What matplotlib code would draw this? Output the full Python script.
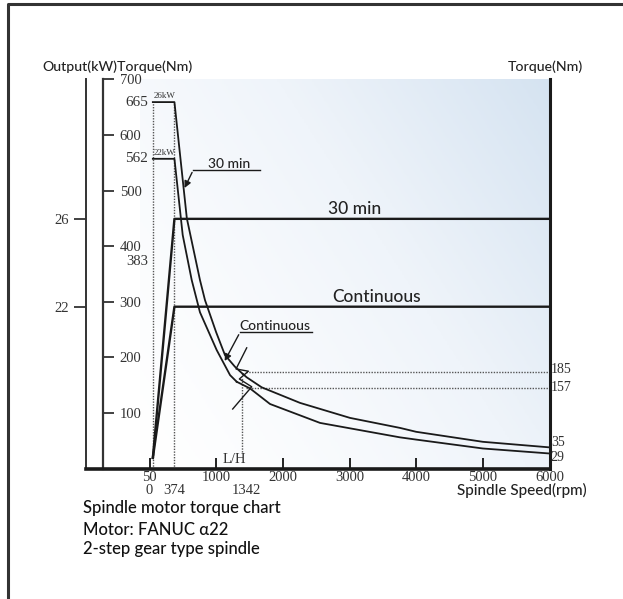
import numpy as np
import matplotlib
matplotlib.use('Agg')
import matplotlib.pyplot as plt
from matplotlib.lines import Line2D
from matplotlib.colors import LinearSegmentedColormap

# ---------------- data ----------------
speed_ticks = [0, 1000, 2000, 3000, 4000, 5000, 6000]
speed_tick_labels = ['50', '1000', '2000', '3000', '4000', '5000', '6000']
torque_ticks = [100, 200, 300, 400, 500, 600, 700]
output_tick_pos = [449, 291]          # output ticks, placed on the torque scale
output_tick_labels = ['26', '22']

# low gear (rpm, Nm)
s30_low_rpm = [50, 374, 560, 757, 832, 1000, 1132, 1282, 1400]
s30_low_tq = [659, 659, 450, 339, 303, 245, 204, 183, 170]
cont_low_rpm = [50, 374, 498, 633, 757, 1008, 1208, 1308]
cont_low_tq = [557, 557, 420, 339, 281, 213, 168, 156]
# high gear (rpm, Nm)
s30_high_rpm = [1400, 1458, 1683, 2258, 3008, 3758, 4000, 5000, 6000]
s30_high_tq = [170, 164, 146, 118, 91, 73, 66, 48, 38]
cont_high_rpm = [1308, 1508, 1808, 2558, 3758, 4000, 5000, 6000]
cont_high_tq = [156, 144, 116, 82, 56, 52, 36, 27]
# output power lines (rpm, height on torque scale)
p30_rpm = [50, 374, 6000]
p30_tq = [19, 449, 449]
pcont_rpm = [50, 374, 6000]
pcont_tq = [19, 291, 291]
# gear change
change_rpm = 1383
level_185 = 174
level_157 = 145

# ---------------- figure ----------------
W, H = 623, 599
fig = plt.figure(figsize=(W / 100, H / 100), dpi=100)
X0, X1, Y0, Y1 = 86, 549.5, 468.5, 79.3          # axes box in px
ax = fig.add_axes([X0 / W, 1 - Y0 / H, (X1 - X0) / W, (Y0 - Y1) / H])
ax.set_xlim(-952.5, 6000)
ax.set_ylim(0, 700)
ax.patch.set_alpha(0)

# gradient background
cmap = LinearSegmentedColormap.from_list('g', ['#ffffff', '#eff4fa', '#d5e3f1'])
gx, gy = np.meshgrid(np.linspace(0, 1, 200), np.linspace(0, 1, 200))
grad = (0.62 * gx + 0.38 * gy) ** 1.3
ax.imshow(grad, extent=[-142, 6000, 0, 700], origin='lower', cmap=cmap,
          aspect='auto', zorder=0, vmin=0, vmax=1)

# spines
ax.spines['top'].set_visible(False)
ax.spines['right'].set_linewidth(2.2)
ax.spines['right'].set_color('#1a1a1a')
ax.spines['bottom'].set_linewidth(2.6)
ax.spines['bottom'].set_color('#1a1a1a')
ax.spines['left'].set_linewidth(1.4)
ax.spines['left'].set_color('#333333')

serif = 'Liberation Serif'
sans = 'Lato'
tc = '#333333'
fs_num = 10.5

ax.set_xticks(speed_ticks[:-1])
ax.set_xticklabels([])
ax.tick_params(axis='x', direction='in', length=8, width=1.4, color='#222222')
for xv, lab in zip(speed_ticks, speed_tick_labels):
    ax.text(xv, -17, lab, ha='center', va='center', fontsize=fs_num,
            family=serif, color=tc)

ax.set_yticks(output_tick_pos)
ax.set_yticklabels(output_tick_labels, family=serif, fontsize=fs_num, color=tc)
ax.tick_params(axis='y', direction='out', length=9, width=1.3, pad=3, color='#333333')

sec = ax.secondary_yaxis((103 - X0) / (X1 - X0))
sec.set_alignment('right')
sec.set_yticks(torque_ticks)
sec.set_yticklabels([str(t) for t in torque_ticks], family=serif, fontsize=fs_num,
                    color=tc)
sec.tick_params(axis='y', direction='out', length=8, width=1.3, pad=4, color='#333333')
sec.spines['right'].set_linewidth(1.6)
sec.spines['right'].set_color('#333333')

lc = '#1a1a1a'
# power lines
ax.plot(p30_rpm, p30_tq, color=lc, lw=1.7, zorder=3)
ax.plot(pcont_rpm, pcont_tq, color=lc, lw=1.7, zorder=3)
# torque curves
ax.plot(s30_low_rpm, s30_low_tq, color=lc, lw=1.3, zorder=3)
ax.plot(cont_low_rpm, cont_low_tq, color=lc, lw=1.3, zorder=3)
ax.plot(s30_high_rpm, s30_high_tq, color=lc, lw=1.3, zorder=3)
ax.plot(cont_high_rpm, cont_high_tq, color=lc, lw=1.3, zorder=3)

dot = dict(color='#555555', lw=1.0, ls=(0, (1, 1)), zorder=2)
ax.plot([50, 50], [0, s30_low_tq[0]], **dot)
ax.plot([374, 374], [0, s30_low_tq[0]], **dot)
ax.plot([change_rpm + 60, 6000], [level_185, level_185], **dot)
ax.plot([change_rpm + 60, 6000], [level_157, level_157], **dot)
ax.plot([change_rpm, change_rpm], [30, 165], **dot)

# gear change break symbol
zz_rpm = [1458, 1298, 1483, 1348, 1533, 1248]
zz_tq = [217, 179, 175, 161, 147, 107]
ax.plot(zz_rpm, zz_tq, color=lc, lw=1.0, zorder=4)

# labels on chart
ax.text(-25, s30_low_tq[0], '665', ha='right', va='center', fontsize=11,
        family=serif, color=tc)
ax.text(-25, cont_low_tq[0], '562', ha='right', va='center', fontsize=11,
        family=serif, color=tc)
ax.text(-25, 373, '383', ha='right', va='center', fontsize=10.5,
        family=serif, color=tc)
ax.text(55, s30_low_tq[0] + 3, '26kW', ha='left', va='bottom', fontsize=6.5,
        family=serif, color=tc)
ax.text(55, cont_low_tq[0] + 3, '22kW', ha='left', va='bottom', fontsize=6.5,
        family=serif, color=tc)
for yv, lab in [(level_185 + 4, '185'), (level_157 + 1, '157'), (47, '35'), (20, '29')]:
    ax.text(6020, yv, lab, ha='left', va='center', fontsize=fs_num - 0.5,
            family=serif, color=tc)
ax.text(1270, 17, 'L/H', ha='center', va='center', fontsize=fs_num,
        family=serif, color=tc)
ax.text(0, -40, '0', ha='center', va='center', fontsize=fs_num, family=serif, color=tc)
ax.text(374, -40, '374', ha='center', va='center', fontsize=fs_num, family=serif, color=tc)
ax.text(1450, -40, '1342', ha='center', va='center', fontsize=fs_num, family=serif, color=tc)
ax.text(6560, -40, 'Spindle Speed(rpm)', ha='right', va='center', fontsize=11,
        family=sans, weight='medium', color='#222222')

ax.text(3080, 452, '30 min', ha='center', va='bottom', fontsize=12.5, family=sans,
        weight='medium', color='#222222')
ax.text(3400, 294, 'Continuous', ha='center', va='bottom', fontsize=12.5, family=sans,
        weight='medium', color='#222222')

# leader labels
ax.text(1190, 537, '30 min', ha='center', va='bottom', fontsize=10, family=sans,
        weight='medium', color='#222222')
ax.plot([657, 1657], [537, 537], color=lc, lw=1.0)
ax.annotate('', xy=(507, 500), xytext=(657, 537),
            arrowprops=dict(arrowstyle='-|>', color=lc, lw=1.0, mutation_scale=10))
ax.text(1880, 245, 'Continuous', ha='center', va='bottom', fontsize=10, family=sans,
        weight='medium', color='#222222')
ax.plot([1358, 2433], [245, 245], color=lc, lw=1.0)
ax.annotate('', xy=(1108, 189), xytext=(1358, 245),
            arrowprops=dict(arrowstyle='-|>', color=lc, lw=1.0, mutation_scale=10))

# headers
fig.text(42.5 / W, 1 - 67 / H, 'Output(kW)Torque(Nm)', ha='left', va='center',
         fontsize=10.2, family=sans, weight='medium', color='#222222')
fig.text(583 / W, 1 - 67 / H, 'Torque(Nm)', ha='right', va='center',
         fontsize=10.2, family=sans, weight='medium', color='#222222')

# caption
for yy, txt in [(508, 'Spindle motor torque chart'), (530, 'Motor: FANUC α22'),
                (549, '2-step gear type spindle')]:
    fig.text(83 / W, 1 - yy / H, txt, ha='left', va='center', fontsize=12,
             family=sans, weight='medium', color='#111111')

# outer frame
fig.add_artist(Line2D([7.5 / W, 7.5 / W, 1], [0, 1 - 3.5 / H, 1 - 3.5 / H],
                      transform=fig.transFigure, color='#333333', lw=2.2))

fig.savefig('out.png', dpi=100)
